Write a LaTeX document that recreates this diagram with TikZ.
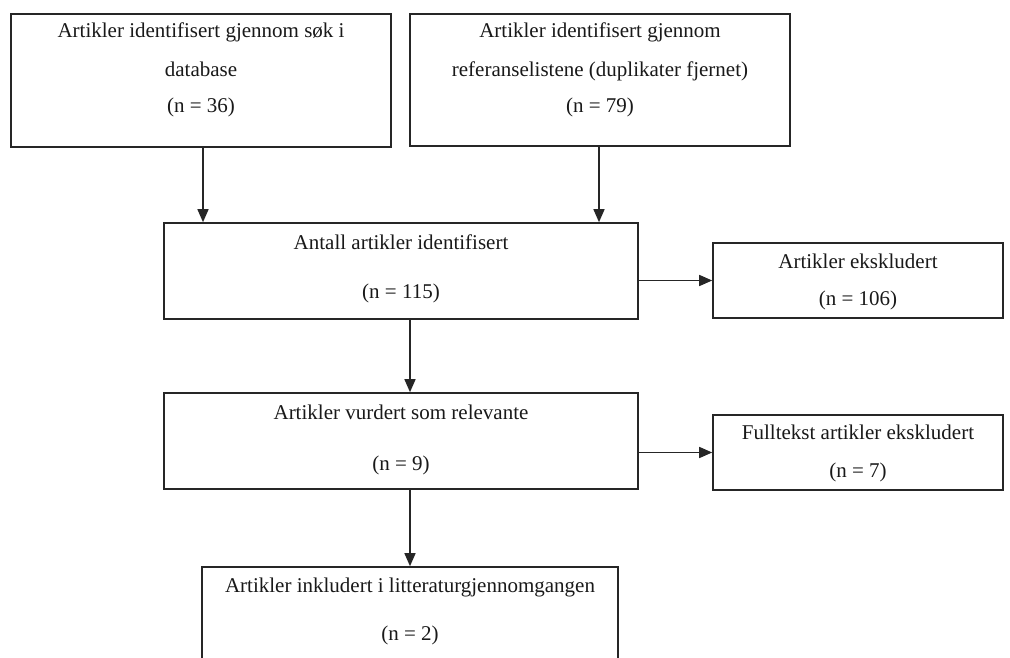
\documentclass[tikz,border=0pt]{standalone}
\usepackage{fontspec}
\setmainfont{Liberation Serif}
\usetikzlibrary{arrows.meta}
\tikzset{
  boxx/.style={draw=black!85, line width=1.6pt, rectangle, inner sep=0pt, fill=none},
  txt/.style={anchor=base, inner sep=0pt, font=\fontsize{21}{24}\selectfont, text=black!90},
  arr/.style={draw=black!85, line width=1.5pt, -{Triangle[length=13pt,width=11pt]}}
}
\begin{document}
\begin{tikzpicture}[x=1pt,y=-1pt]
\useasboundingbox[fill=white] (0,0) rectangle (1010,658);
\begin{scope}
\clip (0,0) rectangle (1010,658);
\node[boxx, minimum width=380pt, minimum height=133pt] (b1) at (201,80.5) {};
\node[boxx, minimum width=380pt, minimum height=132pt] (b2) at (600,80) {};
\node[boxx, minimum width=474pt, minimum height=96pt] (b3) at (401,271) {};
\node[boxx, minimum width=290pt, minimum height=75pt] (b4) at (858,280.5) {};
\node[boxx, minimum width=474pt, minimum height=96pt] (b5) at (401,441) {};
\node[boxx, minimum width=290pt, minimum height=75pt] (b6) at (858,452.5) {};
\node[boxx, minimum width=416pt, minimum height=133pt] (b7) at (410,633.5) {};
\end{scope}

\node[txt] (t1a) at (201,38) {Artikler identifisert gjennom søk i};
\node[txt] (t1b) at (201,77) {database};
\node[txt] (t1c) at (201,113) {(n = 36)};

\node[txt] (t2a) at (600,38) {Artikler identifisert gjennom};
\node[txt] (t2b) at (600,77) {referanselistene (duplikater fjernet)};
\node[txt] (t2c) at (600,113) {(n = 79)};

\node[txt] (t3a) at (401,249) {Antall artikler identifisert};
\node[txt] (t3b) at (401,298) {(n = 115)};

\node[txt] (t4a) at (858,268) {Artikler ekskludert};
\node[txt] (t4b) at (858,305) {(n = 106)};

\node[txt] (t5a) at (401,419) {Artikler vurdert som relevante};
\node[txt] (t5b) at (401,470) {(n = 9)};

\node[txt] (t6a) at (858,439) {Fulltekst artikler ekskludert};
\node[txt] (t6b) at (858,477) {(n = 7)};

\node[txt] (t7a) at (410,592) {Artikler inkludert i litteraturgjennomgangen};
\node[txt] (t7b) at (410,640) {(n = 2)};

\draw[arr] ([xshift=2pt]b1.south) -- ([xshift=2pt]b1.south |- b3.north);
\draw[arr] ([xshift=-1pt]b2.south) -- ([xshift=-1pt]b2.south |- b3.north);
\draw[arr] (b3.east |- b4.west) -- (b4.west);
\draw[arr] (b3.south -| b7.north) -- (b5.north -| b7.north);
\draw[arr] (b5.east |- b6.west) -- (b6.west);
\draw[arr] (b5.south -| b7.north) -- (b7.north);
\end{tikzpicture}
\end{document}
